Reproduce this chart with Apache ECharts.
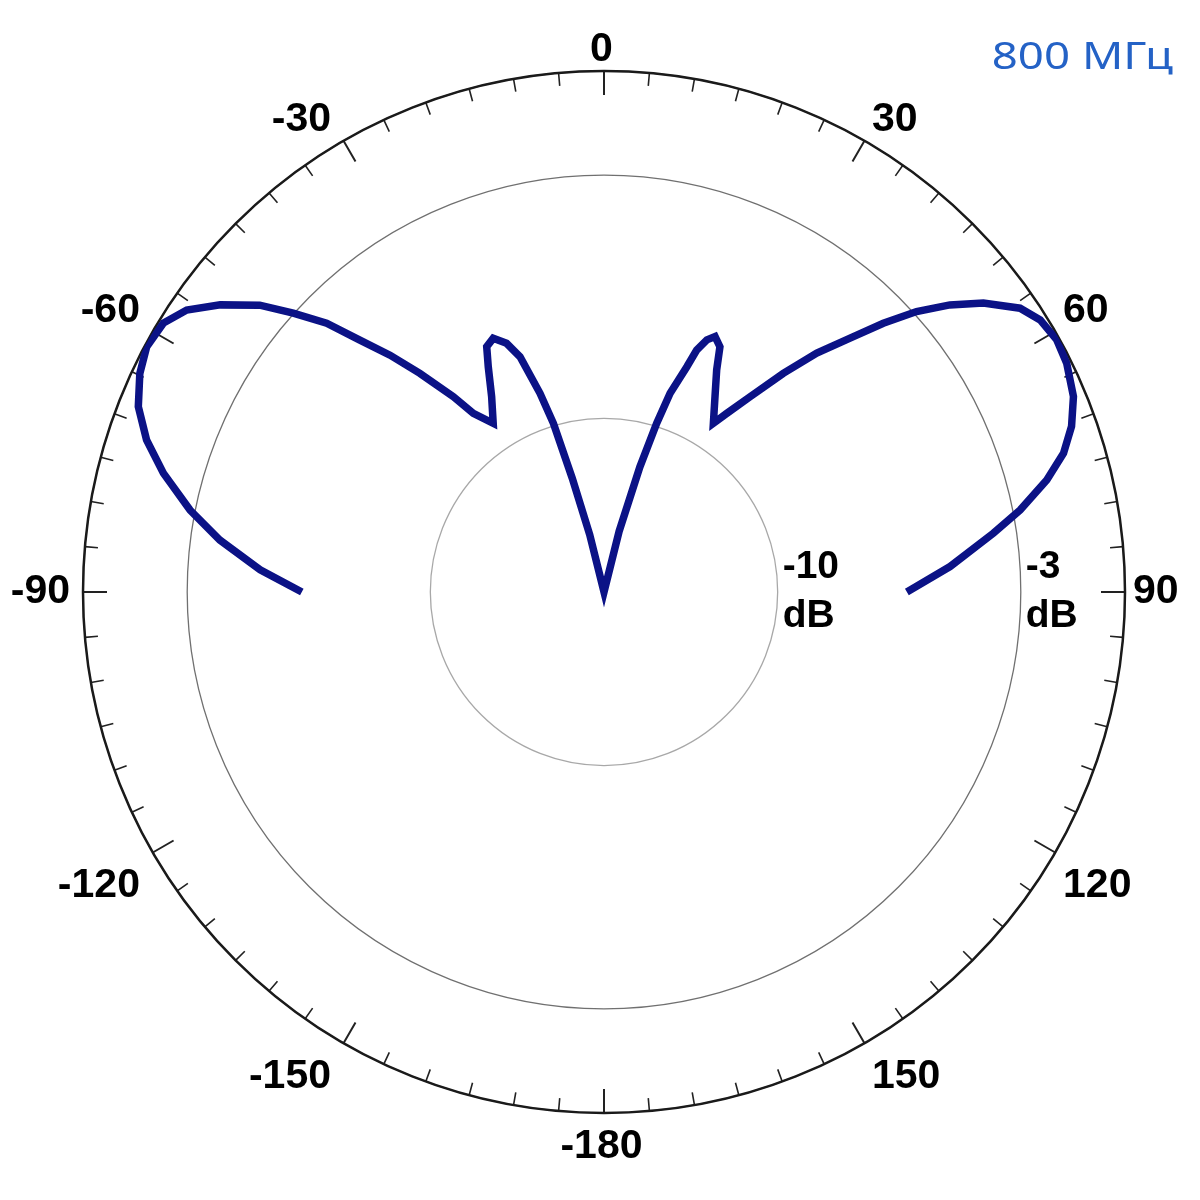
<!DOCTYPE html>
<html>
<head>
<meta charset="utf-8">
<script src="https://cdn.jsdelivr.net/npm/echarts@6/dist/echarts.min.js"></script>
<style>
  html, body { margin: 0; padding: 0; background: #ffffff; }
  #chart { width: 1200px; height: 1200px; }
</style>
</head>
<body>
<div id="chart"></div>
<script>
// Direction of the pattern, degrees (0 = top, clockwise positive)
const angleDeg = [
  -90, -86.3, -82.3, -78.8, -74.9, -71.6, -68.3, -64.8, -61.8, -58.6,
  -55.95, -53.2, -50.2, -48.1, -45.9, -44.1, -42.1, -40.1, -37.65, -36.2,
  -33.3, -29.9, -27.2, -25.55, -23.6, -21.4, -19.65, -17.85, -16.7, -15.6,
  -14.0, 0,
  14.0, 16.0, 17.35, 18.4, 20.2, 20.96, 22.2, 23.5, 25.3, 26.9,
  29.6, 32.95, 34.5, 36.8, 39.35, 41.7, 44.1, 46.1, 48.1, 50.3,
  52.7, 55.7, 58.05, 60.9, 63.7, 67.4, 70.5, 73.2, 75.8, 78.85,
  81.4, 85.8, 90
];
// Relative gain, dB
const gainDb = [
  -6.30, -5.08, -3.84, -2.85, -1.86, -1.12, -0.57, -0.23, -0.06, -0.14,
  -0.50, -1.20, -2.10, -2.98, -3.88, -4.90, -5.81, -6.77, -7.90, -8.63,
  -9.19, -8.51, -7.71, -7.17, -7.03, -7.31, -7.81, -8.99, -9.93, -11.6,
  -13.3, -15,
  -13.2, -11.25, -9.91, -8.97, -8.09, -7.54, -7.16, -6.98, -7.19, -7.83,
  -8.53, -9.21, -8.76, -7.98, -6.86, -5.79, -4.82, -3.84, -2.91, -2.06,
  -1.27, -0.50, -0.20, -0.08, -0.14, -0.36, -0.72, -1.18, -1.85, -2.79,
  -3.66, -5.01, -6.28
];
// Radial rings with labels
const ringLabels = { '-10': '-10\ndB', '-3': '-3\ndB' };
const titleText = '800 МГц';

// angle axis domain runs 90..450 (starting at the right, clockwise)
function toAxisAngle(a) { return a < 90 ? a + 360 : a; }
function axisAngleLabel(v) {
  if (v >= 450) return '';
  return String(v >= 180 ? v - 360 : v);
}

const seriesData = angleDeg.map((a, i) => [gainDb[i], toAxisAngle(a)]);

// split-line colours per radius tick (-15 .. 0 by 1)
const ringColors = [];
for (let v = -15; v <= 0; v++) {
  if (v === -10) ringColors.push('#a8a8a8');
  else if (v === -3) ringColors.push('#707070');
  else if (v === 0) ringColors.push('#9a9a9a');
  else ringColors.push('rgba(0,0,0,0)');
}

const labelFont = '"Liberation Sans", Arial, sans-serif';

const chart = echarts.init(document.getElementById('chart'), null, { renderer: 'canvas' });
chart.setOption({
  backgroundColor: '#ffffff',
  animation: false,
  polar: { center: [604, 592], radius: 521 },
  angleAxis: {
    type: 'value',
    min: 90,
    max: 450,
    interval: 30,
    startAngle: 0,
    clockwise: true,
    axisLine: { show: true, lineStyle: { color: '#1a1a1a', width: 2.5 } },
    axisTick: { show: true, inside: true, length: 24, lineStyle: { color: '#222', width: 2 } },
    minorTick: { show: true, splitNumber: 6, length: 13, lineStyle: { color: '#222', width: 1.6 } },
    splitLine: { show: false },
    minorSplitLine: { show: false },
    axisLabel: {
      show: true,
      margin: 1,
      padding: [12, 12, 0, 7],
      formatter: axisAngleLabel,
      fontFamily: labelFont,
      fontWeight: 'bold',
      fontSize: 41,
      color: '#000'
    }
  },
  radiusAxis: {
    type: 'value',
    min: -15,
    max: 0,
    interval: 1,
    axisLine: { show: false },
    axisTick: { show: false },
    splitLine: { show: true, lineStyle: { color: ringColors, width: 1.3 } },
    axisLabel: {
      show: true,
      margin: 0,
      align: 'left',
      verticalAlign: 'middle',
      padding: [36, 0, 0, 5],
      lineHeight: 49,
      formatter: function (v) { return ringLabels[String(v)] || ''; },
      fontFamily: labelFont,
      fontWeight: 'bold',
      fontSize: 39,
      color: '#000'
    }
  },
  series: [{
    type: 'line',
    coordinateSystem: 'polar',
    data: seriesData,
    showSymbol: false,
    symbol: 'none',
    smooth: false,
    lineStyle: { color: '#0b1286', width: 7.5, join: 'miter' },
    z: 5
  }],
  graphic: [{
    type: 'text',
    x: 1173,
    y: 58,
    scaleX: 1.2,
    style: {
      x: 0, y: 0,
      text: titleText,
      fill: '#2462c6',
      font: '38px "Noto Sans", Roboto, sans-serif',
      textAlign: 'right',
      textVerticalAlign: 'middle'
    }
  }]
});
</script>
</body>
</html>
